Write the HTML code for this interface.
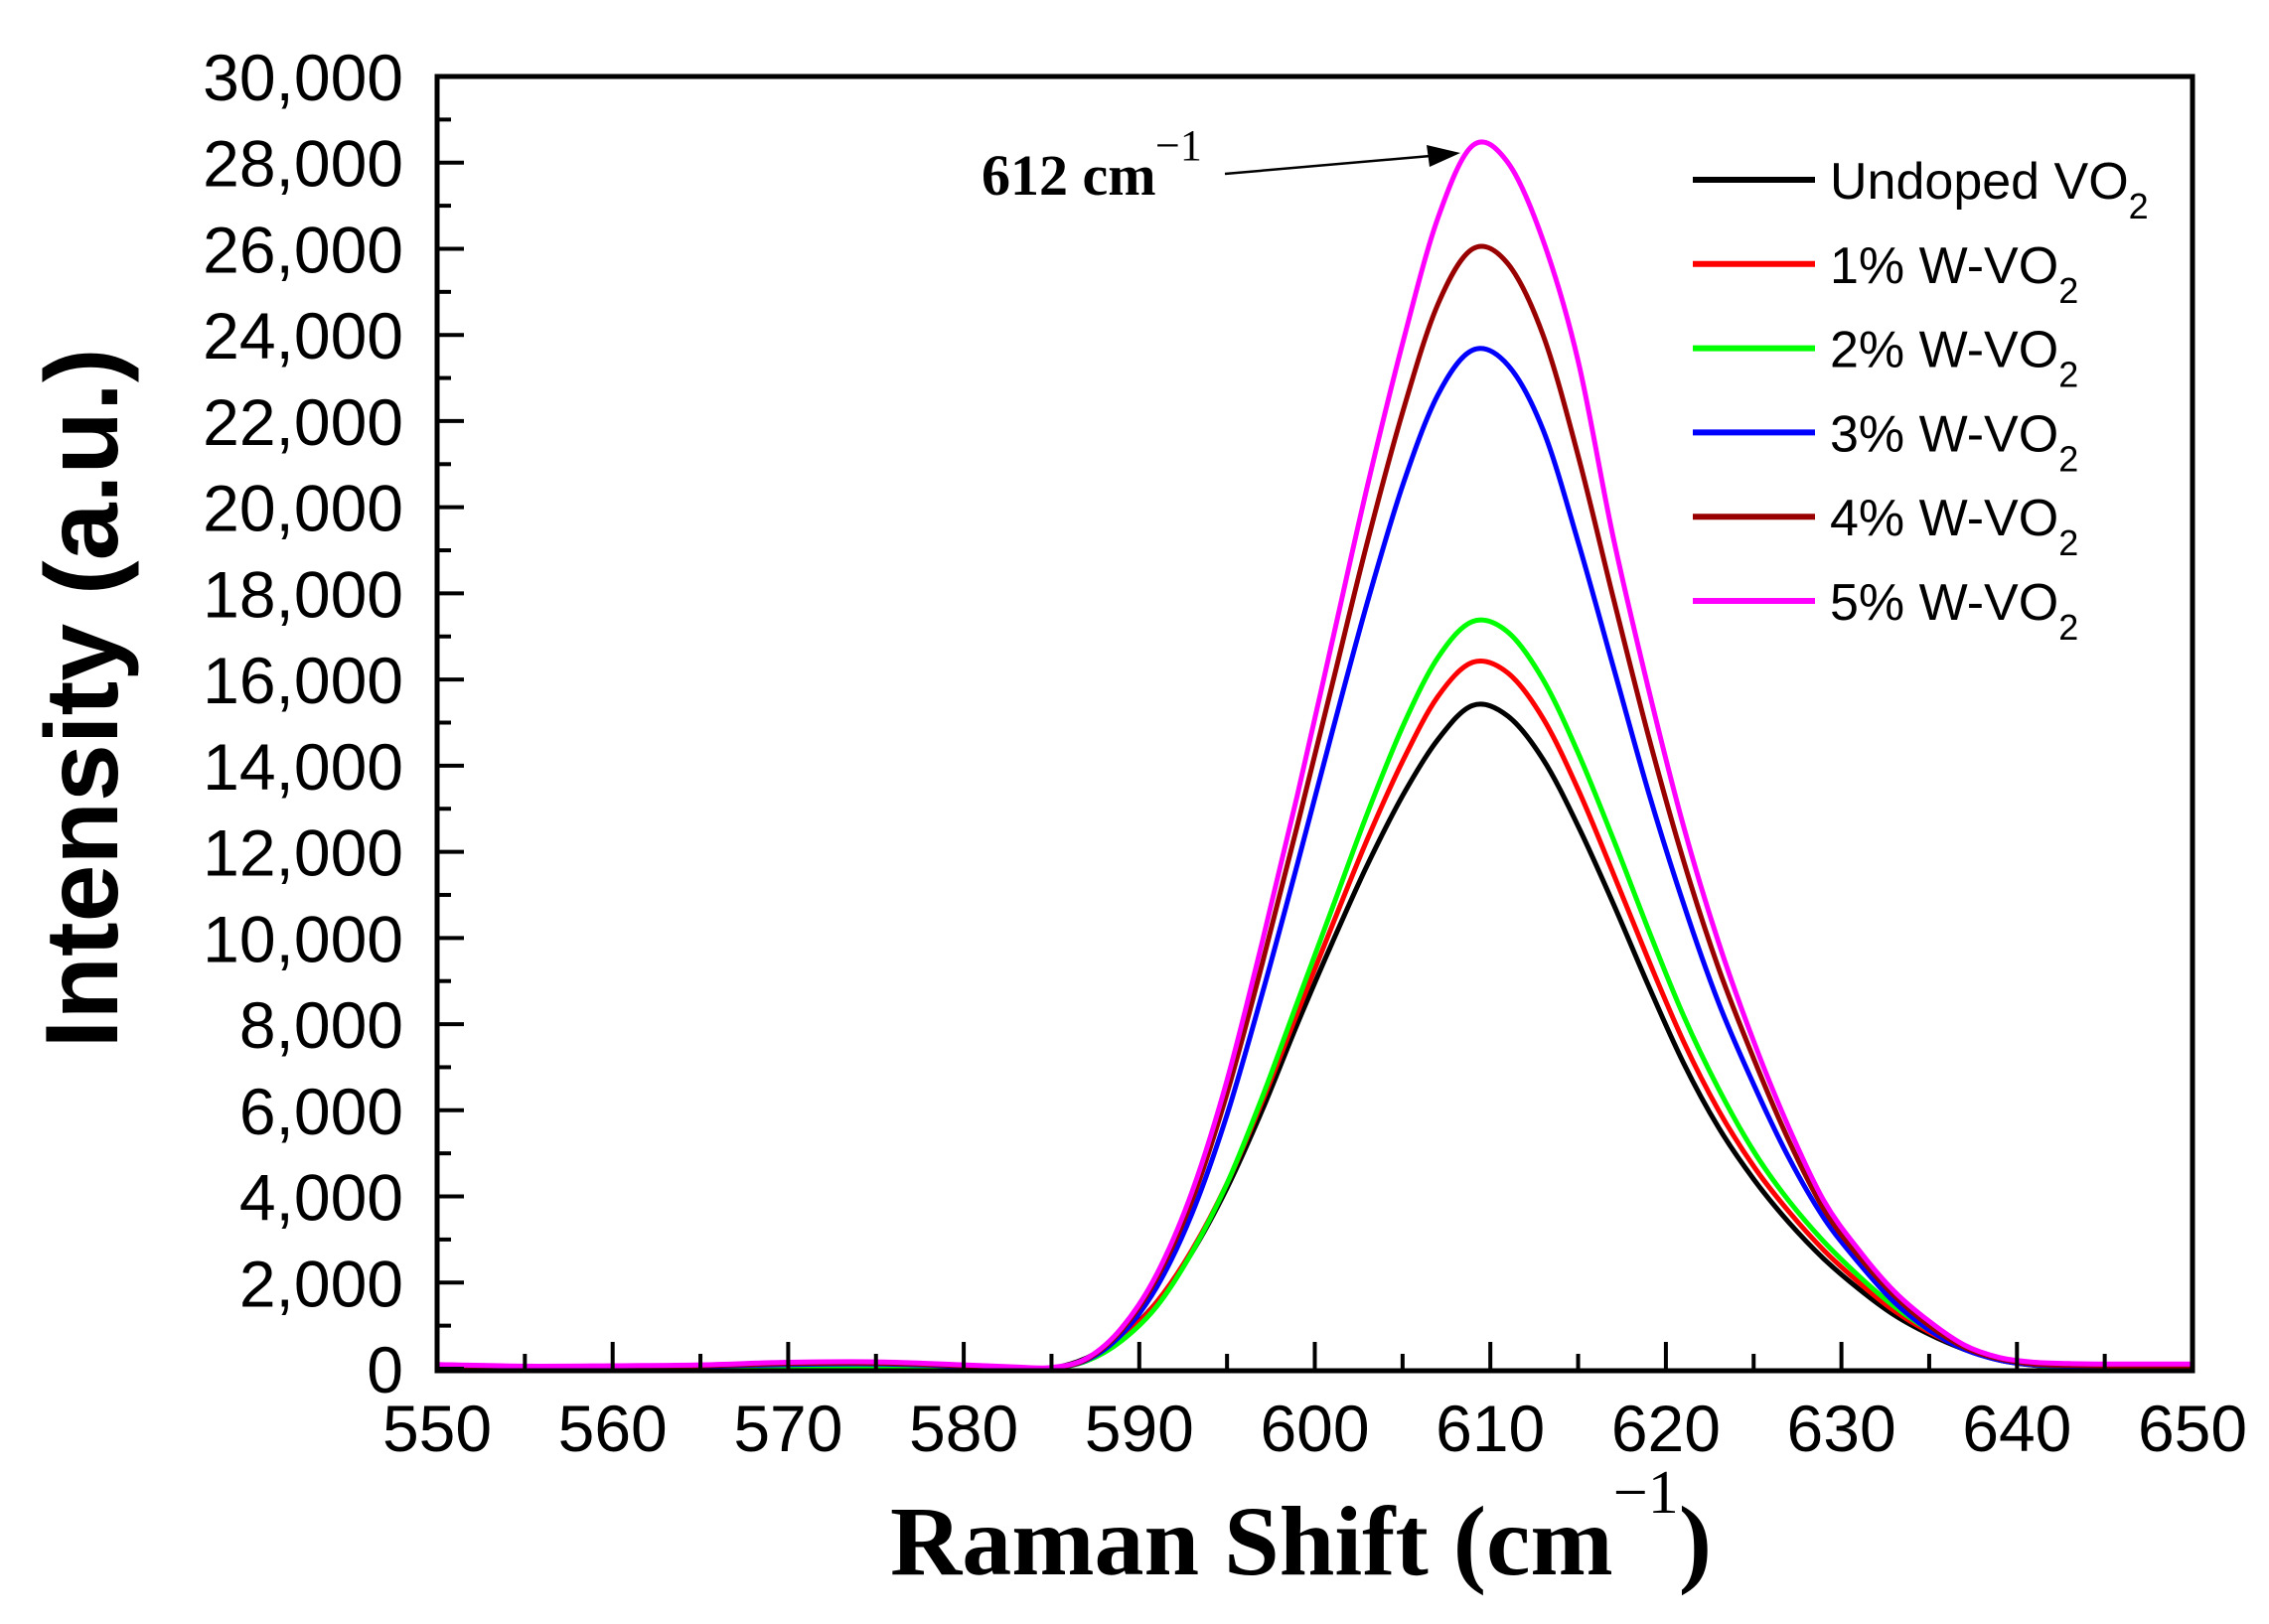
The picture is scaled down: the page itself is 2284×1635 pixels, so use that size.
<!DOCTYPE html>
<html><head><meta charset="utf-8"><style>
html,body{margin:0;padding:0;background:#fff;}
svg{display:block;}
</style></head><body>
<svg id="chart" width="2284" height="1635" viewBox="0 0 2284 1635" xmlns="http://www.w3.org/2000/svg">
<rect width="2284" height="1635" fill="#fff"/>
<g id="series"></g>
<g id="axes"></g>
<text transform="translate(118,703) rotate(-90)" text-anchor="middle" font-family="Liberation Sans, sans-serif" font-weight="bold" font-size="104">Intensity (a.u.)</text>
<text x="896" y="1585" font-family="Liberation Serif, serif" font-weight="bold" font-size="100">Raman Shift (cm<tspan dy="-62" font-size="62" font-weight="normal">−1</tspan><tspan dy="62">)</tspan></text>
<text x="988" y="196" font-family="Liberation Serif, serif" font-weight="bold" font-size="58">612 cm<tspan x="1163" y="161" font-size="44" font-weight="normal">−1</tspan></text>
<line x1="1233" y1="175" x2="1440" y2="157" stroke="#000" stroke-width="2.5"/>
<polygon points="1470,154 1436,146 1439,168" fill="#000"/>
<g id="legend"></g>
</svg>
<script>
const xs = [550,555,560,565,570,575,580,583,585,587,589,591,593,595,597,599,601,603,605,607,609,611,613,615,617,619,621,623,625,627,629,631,633,635,637,639,641,643,645,650];
const undoped = [20,10,20,30,60,60,30,10,10,250,750,1550,2700,4200,6000,8000,9900,11700,13300,14600,15400,15150,14150,12600,10800,8900,7100,5600,4400,3400,2550,1850,1250,800,450,200,80,50,50,50];
const w1 = [30,15,25,40,70,70,35,15,10,220,720,1550,2750,4300,6200,8250,10300,12300,14100,15600,16400,16150,15100,13450,11500,9500,7600,6000,4700,3650,2750,2000,1350,850,470,220,90,60,60,60];
const w2 = [30,15,25,40,60,60,30,10,10,180,650,1450,2700,4300,6300,8500,10700,12900,14900,16500,17350,17100,16000,14300,12300,10200,8200,6500,5050,3900,2950,2150,1450,900,480,220,90,40,30,30];
const w3 = [60,30,40,60,100,110,60,25,20,200,800,1900,3600,5900,8700,11700,14800,17800,20500,22600,23650,23300,21800,19200,16300,13400,10800,8500,6600,4900,3500,2450,1550,900,450,200,90,70,60,60];
const w4 = [80,40,50,70,120,130,70,30,20,220,900,2100,3900,6400,9400,12600,15900,19200,22200,24700,26000,25650,24000,21200,17900,14700,11800,9300,7200,5300,3700,2600,1700,1000,500,230,110,80,70,70];
const w5 = [100,60,70,90,150,160,90,40,30,240,950,2200,4100,6700,9900,13300,16900,20500,23800,26700,28400,28000,26200,23400,19300,15800,12600,9900,7600,5600,3900,2750,1800,1100,550,260,150,120,110,110];
const seriesNames = ["Undoped VO","1% W-VO","2% W-VO","3% W-VO","4% W-VO","5% W-VO"];
const xTicks = [550,560,570,580,590,600,610,620,630,640,650];
const yTicks = [0,2000,4000,6000,8000,10000,12000,14000,16000,18000,20000,22000,24000,26000,28000,30000];
const yTickLabels = ["0","2,000","4,000","6,000","8,000","10,000","12,000","14,000","16,000","18,000","20,000","22,000","24,000","26,000","28,000","30,000"];

const NS="http://www.w3.org/2000/svg";
const L=440,R=2207,T=77,B=1378;
const X0=550,X1=650,Y0=0,Y1=30000;
function sx(v){return L+(v-X0)/(X1-X0)*(R-L);}
function sy(v){return B-(v-Y0)/(Y1-Y0)*(B-T);}
function mk(tag,attrs,parent){const e=document.createElementNS(NS,tag);for(const k in attrs)e.setAttribute(k,attrs[k]);parent.appendChild(e);return e;}

const colors=["#000000","#ff0000","#00ff00","#0000ff","#990000","#ff00ff"];
const allSeries=[undoped,w1,w2,w3,w4,w5];
const keys=["undoped","w1","w2","w3","w4","w5"];
const sg=document.getElementById('series');
function pathFor(vals){
  const p=xs.map((x,i)=>[sx(x),sy(vals[i])]);
  let d="M"+p[0][0].toFixed(1)+","+p[0][1].toFixed(1);
  for(let i=0;i<p.length-1;i++){
    const p0=p[i-1]||p[i],p1=p[i],p2=p[i+1],p3=p[i+2]||p[i+1];
    const t=1/6;
    let c1y=p1[1]+(p2[1]-p0[1])*t, c2y=p2[1]-(p3[1]-p1[1])*t;
    c1y=Math.min(c1y,B+2);c2y=Math.min(c2y,B+2);
    d+=" C"+(p1[0]+(p2[0]-p0[0])*t).toFixed(1)+","+c1y.toFixed(1)+" "+(p2[0]-(p3[0]-p1[0])*t).toFixed(1)+","+c2y.toFixed(1)+" "+p2[0].toFixed(1)+","+p2[1].toFixed(1);
  }
  return d;
}
allSeries.forEach((vals,i)=>{
  const el=mk('path',{d:pathFor(vals),fill:"none",stroke:colors[i],"stroke-width":5,"stroke-linejoin":"round"},sg);
  
  
});

const ax=document.getElementById('axes');
const frame=mk('rect',{x:L,y:T,width:R-L,height:B-T+2,fill:"none",stroke:"#000","stroke-width":5},ax);


const F="Liberation Sans, sans-serif";
xTicks.forEach((v,i)=>{
  const t=mk('line',{x1:sx(v),x2:sx(v),y1:B,y2:B-27,stroke:"#000","stroke-width":4},ax);
  
  
  if(i<xTicks.length-1){
    const m=mk('line',{x1:sx(v+5),x2:sx(v+5),y1:B,y2:B-15,stroke:"#000","stroke-width":4},ax);
    
    
  }
  const lb=mk('text',{x:sx(v),y:1461,"text-anchor":"middle","font-family":F,"font-size":66},ax);
  lb.textContent=String(v);
  
  
});
yTicks.forEach((v,i)=>{
  const t=mk('line',{x1:L,x2:L+27,y1:sy(v),y2:sy(v),stroke:"#000","stroke-width":4},ax);
  
  
  if(i<yTicks.length-1){
    const m=mk('line',{x1:L,x2:L+14,y1:sy(v+1000),y2:sy(v+1000),stroke:"#000","stroke-width":4},ax);
    
    
  }
  const lb=mk('text',{x:406,y:sy(v)+24,"text-anchor":"end","font-family":F,"font-size":66},ax);
  lb.textContent=yTickLabels[i];
  
  
});

const lg=document.getElementById('legend');
seriesNames.forEach((n,i)=>{
  const y=181+i*84.8;
  const ln=mk('line',{x1:1704,x2:1827,y1:y,y2:y,stroke:colors[i],"stroke-width":6},lg);
  
  
  const tx=mk('text',{x:1842,y:y+19,"font-family":F,"font-size":52},lg);
  
  
  tx.appendChild(document.createTextNode(n));
  const sub=mk('tspan',{"font-size":36,dy:20},tx);
  sub.textContent="2";
});
</script>
</body></html>
